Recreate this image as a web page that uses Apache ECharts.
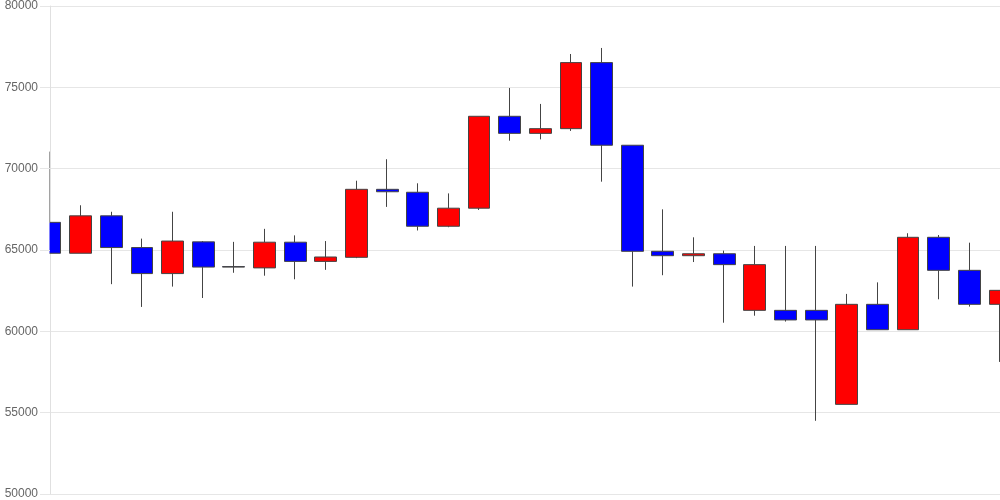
<!DOCTYPE html>
<html>
<head>
<meta charset="utf-8">
<script src="https://cdn.jsdelivr.net/npm/echarts@6/dist/echarts.min.js"></script>
<style>html,body{margin:0;padding:0;background:#fff}#c{width:1000px;height:500px}</style>
</head>
<body>
<div id="c"></div>
<script>
const categories = ['1','2','3','4','5','6','7','8','9','10','11','12','13','14','15','16','17','18','19','20','21','22','23','24','25','26','27','28','29','30','31','32'];
const opens  = [66700,64800,67100,65150,63550,65500,63980,63900,65480,64300,64550,68730,68550,66460,67570,73220,72170,72460,76520,71440,64920,64650,64770,61290,61290,61290,55510,61660,60100,65780,63750,61660];
const closes = [64800,67100,65150,63550,65550,63950,63950,65480,64300,64570,68730,68580,66460,67570,73220,72170,72460,76520,71440,64920,64650,64770,64100,64100,60700,60700,61660,60100,65780,63750,61660,62520];
const lows   = [64800,64800,62900,61500,62750,62050,63600,63420,63200,63780,64500,67650,66200,66400,67460,71720,71800,72320,69200,62750,63450,64260,60530,60960,60600,54500,55510,60100,60100,61970,61520,58120];
const highs  = [71050,67750,67350,65700,67350,65550,65500,66300,65900,65550,69260,70580,69100,68480,73220,74960,73980,77050,77420,71440,67500,65780,64960,65250,65250,65250,62300,63010,66030,65920,65450,62520];
const yTicks = {min: 50000, max: 80000, interval: 5000};

const data = categories.map((c, i) => [opens[i], closes[i], lows[i], highs[i]]);

const chart = echarts.init(document.getElementById('c'), null, {renderer: 'canvas'});
chart.setOption({
  animation: false,
  grid: {left: 50, right: 0, top: 6, bottom: 6},
  graphic: [{
    type: 'rect',
    left: 0, top: 0, z: 5,
    shape: {width: 49.5, height: 500},
    style: {fill: '#fff'}
  }],
  xAxis: {
    type: 'category',
    data: categories,
    boundaryGap: false,
    axisLine: {show: false},
    axisTick: {show: false},
    axisLabel: {show: false},
    splitLine: {show: false}
  },
  yAxis: [{
    type: 'value',
    min: yTicks.min,
    max: yTicks.max,
    interval: yTicks.interval,
    axisLine: {show: true, lineStyle: {color: '#e0e0e0'}},
    axisTick: {show: false},
    axisLabel: {show: false},
    splitLine: {lineStyle: {color: '#e6e6e6'}}
  }, {
    type: 'value',
    position: 'left',
    z: 10,
    min: yTicks.min,
    max: yTicks.max,
    interval: yTicks.interval,
    axisLine: {show: false},
    axisTick: {show: true, length: 10, lineStyle: {color: '#e6e6e6'}},
    axisLabel: {color: '#666', fontSize: 12, fontFamily: 'Arial, Liberation Sans, sans-serif', margin: 12, formatter: v => String(v)},
    splitLine: {show: false}
  }],
  series: [{
    type: 'candlestick',
    data: data,
    yAxisIndex: 0,
    barWidth: '73%',
    itemStyle: {
      color: '#ff0000',
      color0: '#0000ff',
      borderColor: '#444',
      borderColor0: '#444',
      borderWidth: 1
    }
  }]
});
</script>
</body>
</html>
